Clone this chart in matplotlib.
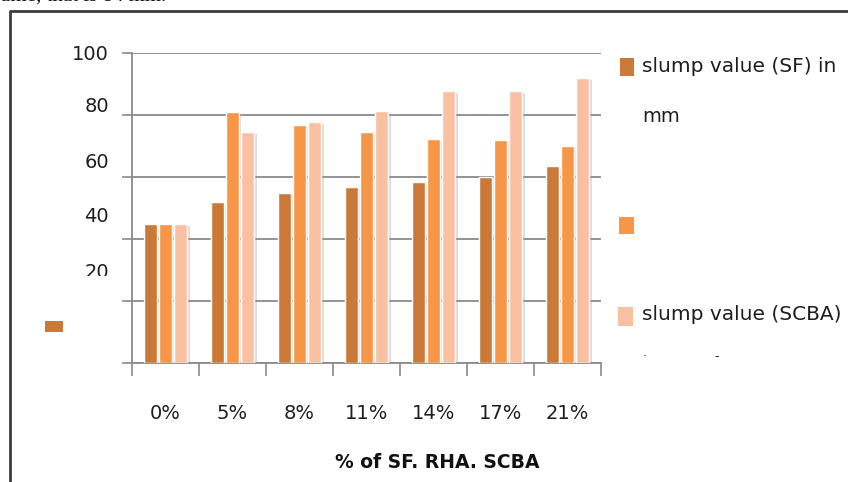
import numpy as np
import matplotlib.pyplot as plt
from matplotlib.patches import Rectangle
from matplotlib.lines import Line2D
import matplotlib.patheffects as pe

# slump values (mm) for each replacement level
categories = ["0%", "5%", "8%", "11%", "14%", "17%", "21%"]
slump_sf = [45, 52, 55, 57, 58.5, 60, 63.5]
slump_rha = [45, 81, 77, 74.5, 72.5, 72, 70]
slump_scba = [45, 74.5, 78, 81.5, 88, 88, 92]
y_labels = ["100", "80", "60", "40", "20"]

W, H = 848, 482
col_sf = "#CB7938"
col_rha = "#F79646"
col_scba = "#F9C1A2"
txt = "#1e1e1e"

plt.rcParams['font.family'] = ['DejaVu Sans']

fig = plt.figure(figsize=(W / 100, H / 100), dpi=100)


def fx(px):
    return px / W


def fy(py):
    return 1 - py / H


ax = fig.add_axes([fx(132), fy(363.3), fx(601) - fx(132), fy(53.3) - fy(363.3)])
x = np.arange(len(categories))
bw = 0.205
pitch = 0.225
shadow = [pe.SimplePatchShadow(offset=(1.5, -1.5), shadow_rgbFace="#999999", alpha=0.35), pe.Normal()]
for k, (vals, c) in enumerate([(slump_sf, col_sf), (slump_rha, col_rha), (slump_scba, col_scba)]):
    bars = ax.bar(x + (k - 1) * pitch, vals, width=bw, color=c, edgecolor="white",
                  linewidth=1.0, zorder=3)
    for b in bars:
        b.set_path_effects(shadow)

ax.set_xlim(-0.5, len(categories) - 0.5)
ax.set_ylim(0, 100)
ax.set_yticks(np.arange(0, 101, 20))
ax.set_yticklabels([])
ax.yaxis.grid(True, color="#8a8a8a", linewidth=1.3, zorder=0)
ax.set_axisbelow(True)
ax.tick_params(axis="y", length=7, width=1.2, color="#8a8a8a")

ax.set_xticks(x)
ax.set_xticklabels(categories, fontsize=14, color=txt)
ax.tick_params(axis="x", which="major", length=0, pad=29)
ax.set_xticks(np.arange(-0.5, len(categories)), minor=True)
ax.tick_params(axis="x", which="minor", length=9, width=1.2, color="#8a8a8a")

for s in ["top", "right"]:
    ax.spines[s].set_visible(False)
for s in ["left", "bottom"]:
    ax.spines[s].set_color("#8a8a8a")
    ax.spines[s].set_linewidth(1.3)

# value labels sit a bit off their gridlines
label_px = [54, 106, 162, 217, 273]
for lab, py in zip(y_labels, label_px):
    fig.text(fx(109), fy(py), lab, ha="right", va="center", fontsize=14, color=txt)
# lower part of the "20" label is cut away
fig.add_artist(Rectangle((fx(60), fy(298)), fx(60), fy(276.5) - fy(298),
                         transform=fig.transFigure, facecolor="white",
                         edgecolor="none", zorder=10))

fig.text(fx(437), fy(463), "% of SF. RHA. SCBA", ha="center", va="center",
         fontsize=13.5, fontweight="bold", color="#111111")

# legend drawn by hand
def sq(x0, y0, x1, y1, c):
    fig.patches.append(Rectangle((fx(x0), fy(y1)), fx(x1) - fx(x0), fy(y0) - fy(y1),
                                 transform=fig.transFigure, facecolor=c, edgecolor="none"))


sq(620, 58, 634, 76, col_sf)
sq(619, 217, 634, 234, col_rha)
sq(618, 307, 633, 326, col_scba)
sq(45, 321, 63, 332, col_sf)
fig.text(fx(642), fy(66), "slump value (SF) in", ha="left", va="center", fontsize=14.5, color=txt)
fig.text(fx(642), fy(117), "mm", ha="left", va="center", fontsize=14, color=txt)
fig.text(fx(642), fy(315), "slump value (SCBA)", ha="left", va="center", fontsize=14.5, color=txt)
fig.text(fx(645), fy(357), "\u00b7", ha="center", va="center", fontsize=9, color=txt)
fig.text(fx(717), fy(357), "-", ha="center", va="center", fontsize=9, color=txt)

# surrounding frame and the sentence running in from above
fig.add_artist(Line2D([fx(10), fx(10), 1.0], [0, fy(11), fy(11)], transform=fig.transFigure,
                      color="#3c3c3c", linewidth=2.0))
fig.text(0.0, fy(0.5), "ume, that is 84 mm.", ha="left", va="baseline", fontsize=15,
         family="Liberation Serif", color="#111111")

fig.savefig("out.png", dpi=100)
